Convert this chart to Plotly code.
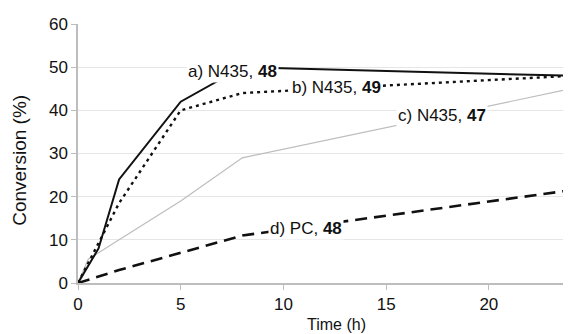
import plotly.graph_objects as go

# Series data (time in h, conversion in %)
a_t = [0, 1, 2, 5, 8, 24]
a_y = [0, 8, 24, 42, 50, 48]

b_t = [0, 2, 5, 8, 24]
b_y = [0, 18.5, 40, 44, 48]

c_t = [0, 0.5, 2, 5, 8, 24]
c_y = [0, 5.5, 10, 19, 29, 45]

d_t = [0, 2, 5, 8, 24]
d_y = [0, 3, 7, 11, 21.5]

labels = ["a) N435, <b>48</b>", "b) N435, <b>49</b>", "c) N435, <b>47</b>", "d) PC, <b>48</b>"]
label_x = [7.5, 12.6, 17.7, 11.1]
label_y = [48.9, 45.2, 38.8, 12.7]

x_ticks = [0, 5, 10, 15, 20]
y_ticks = [0, 10, 20, 30, 40, 50, 60]

FONT = "Liberation Sans, Arial, sans-serif"

fig = go.Figure()
fig.add_trace(go.Scatter(x=c_t, y=c_y, mode="lines", line=dict(color="#bdbdbd", width=1.2)))
fig.add_trace(go.Scatter(x=d_t, y=d_y, mode="lines", line=dict(color="#111111", width=2.6, dash="12px,7px")))
fig.add_trace(go.Scatter(x=b_t, y=b_y, mode="lines", line=dict(color="#111111", width=2.4, dash="3px,4px")))
fig.add_trace(go.Scatter(x=a_t, y=a_y, mode="lines", line=dict(color="#111111", width=2)))

for txt, lx, ly in zip(labels, label_x, label_y):
    fig.add_annotation(x=lx, y=ly, text=txt, showarrow=False, bgcolor="white",
                       borderpad=1, font=dict(family=FONT, size=17, color="#111111"))

fig.add_annotation(xref="paper", yref="paper", x=0.525, y=-0.162, text="Time (h)",
                   showarrow=False, font=dict(family=FONT, size=16, color="#111111"),
                   yanchor="middle")
fig.add_annotation(xref="paper", yref="paper", x=-0.118, y=0.475, text="Conversion (%)",
                   showarrow=False, textangle=-90, font=dict(family=FONT, size=19, color="#111111"),
                   xanchor="center", yanchor="middle")

fig.update_layout(
    width=563, height=326,
    margin=dict(l=70, r=0, t=16, b=51),
    paper_bgcolor="white", plot_bgcolor="white",
    showlegend=False,
    font=dict(family=FONT, size=17, color="#111111"),
)
fig.update_xaxes(range=[0, 24], tickvals=x_ticks, showgrid=False, zeroline=False,
                 showline=True, linecolor="#bdbdbd", linewidth=1.5,
                 ticks="outside", ticklen=5, tickcolor="#bdbdbd", tickfont=dict(size=17))
fig.update_yaxes(range=[0, 60], tickvals=y_ticks, showgrid=True, gridcolor="#e6e6e6",
                 zeroline=False, showline=True, linecolor="#bdbdbd", linewidth=1.5,
                 ticks="outside", ticklen=5, tickcolor="#bdbdbd", tickfont=dict(size=17))

fig.write_html("out.html")
